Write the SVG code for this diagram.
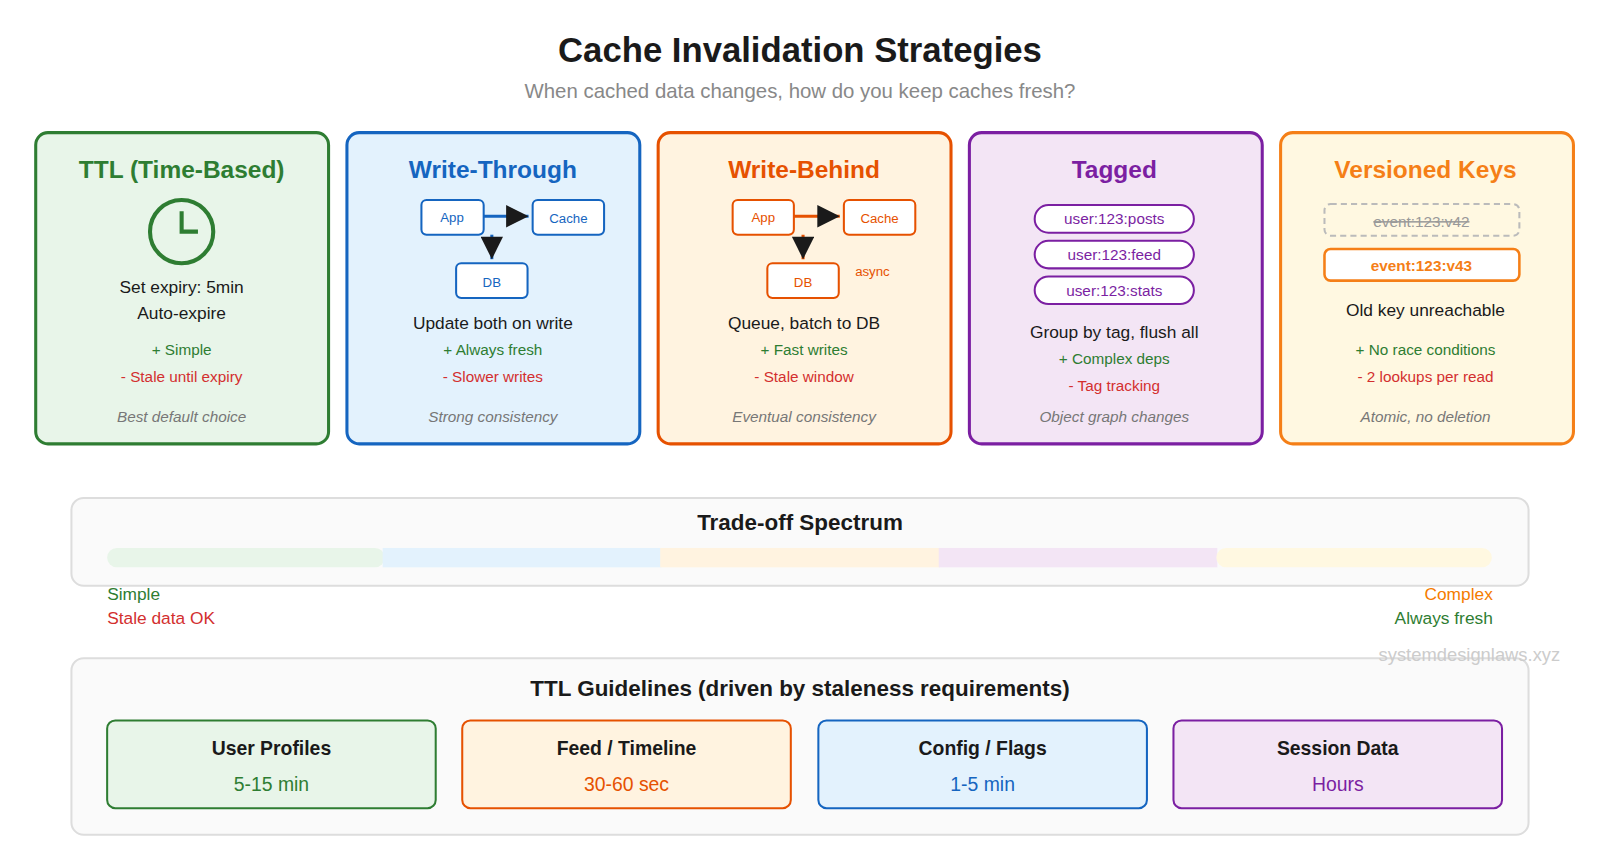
<svg xmlns="http://www.w3.org/2000/svg" width="1600" height="844" viewBox="0 0 1600 844">
<style>
text{font-family:"Liberation Sans",Arial,sans-serif}
.c{text-anchor:middle}
.t{font-size:24px;font-weight:bold}
.b{font-size:17px;fill:#1a1a1a}
.p{font-size:15px;fill:#2e7d32}
.m{font-size:15px;fill:#d32f2f}
.i{font-size:15px;font-style:italic;fill:#777}
.card{stroke-width:3}
.sm{font-size:13px}
</style>
<defs>
<marker id="big" viewBox="0 0 10 10" refX="10" refY="5" markerWidth="28" markerHeight="22" markerUnits="userSpaceOnUse" orient="auto"><path d="M0,0L10,5L0,10z" fill="#1a1a1a"/></marker>
</defs>
<rect width="1600" height="844" fill="#fff"/>
<g transform="scale(1.0204)">
<text class="c" x="784" y="61" font-size="34" font-weight="bold" fill="#1a1a1a">Cache Invalidation Strategies</text>
<text class="c" x="784" y="96" font-size="20" fill="#888">When cached data changes, how do you keep caches fresh?</text>

<g id="ttl">
<rect class="card" x="35" y="130" width="287" height="305" rx="12" fill="#e8f5e9" stroke="#2e7d32"/>
<text class="c t" x="178" y="174" fill="#2e7d32">TTL (Time-Based)</text>
<circle cx="178" cy="227" r="31" fill="none" stroke="#2e7d32" stroke-width="4"/>
<path d="M178,207V227H194" fill="none" stroke="#2e7d32" stroke-width="4"/>
<text class="c b" x="178" y="287">Set expiry: 5min</text>
<text class="c b" x="178" y="313">Auto-expire</text>
<text class="c p" x="178" y="348">+ Simple</text>
<text class="c m" x="178" y="374">- Stale until expiry</text>
<text class="c i" x="178" y="414">Best default choice</text>
</g>

<g id="writethrough">
<rect class="card" x="340" y="130" width="287" height="305" rx="12" fill="#e3f2fd" stroke="#1565c0"/>
<text class="c t" x="483" y="174" fill="#1565c0">Write-Through</text>
<g fill="#fff" stroke="#1565c0" stroke-width="2">
<rect x="413" y="196" width="61" height="34" rx="5"/>
<rect x="522" y="196" width="70" height="34" rx="5"/>
<rect x="447" y="258" width="70" height="34" rx="5"/>
</g>
<g fill="#1565c0" class="c sm"><text x="443" y="218">App</text><text x="557" y="219">Cache</text><text x="482" y="281">DB</text></g>
<text class="c b" x="483" y="322">Update both on write</text>
<text class="c p" x="483" y="348">+ Always fresh</text>
<text class="c m" x="483" y="374">- Slower writes</text>
<text class="c i" x="483" y="414">Strong consistency</text>
</g>

<g id="writebehind">
<rect class="card" x="645" y="130" width="287" height="305" rx="12" fill="#fff3e0" stroke="#e65100"/>
<text class="c t" x="788" y="174" fill="#e65100">Write-Behind</text>
<g fill="#fff" stroke="#e65100" stroke-width="2">
<rect x="718" y="196" width="60" height="34" rx="5"/>
<rect x="827" y="196" width="70" height="34" rx="5"/>
<rect x="752" y="258" width="70" height="34" rx="5"/>
</g>
<g fill="#e65100" class="c sm"><text x="748" y="218">App</text><text x="862" y="219">Cache</text><text x="787" y="281">DB</text><text x="855" y="270">async</text></g>
<text class="c b" x="788" y="322">Queue, batch to DB</text>
<text class="c p" x="788" y="348">+ Fast writes</text>
<text class="c m" x="788" y="374">- Stale window</text>
<text class="c i" x="788" y="414">Eventual consistency</text>
</g>

<g id="tagged">
<rect class="card" x="950" y="130" width="287" height="305" rx="12" fill="#f3e5f5" stroke="#7b1fa2"/>
<text class="c t" x="1092" y="174" fill="#7b1fa2">Tagged</text>
<g fill="#fff" stroke="#7b1fa2" stroke-width="2">
<rect x="1014" y="201" width="156" height="27" rx="13.5"/>
<rect x="1014" y="236" width="156" height="27" rx="13.5"/>
<rect x="1014" y="271" width="156" height="27" rx="13.5"/>
</g>
<g fill="#7b1fa2" class="c" font-size="15"><text x="1092" y="220">user:123:posts</text><text x="1092" y="255">user:123:feed</text><text x="1092" y="290">user:123:stats</text></g>
<text class="c b" x="1092" y="331">Group by tag, flush all</text>
<text class="c p" x="1092" y="357">+ Complex deps</text>
<text class="c m" x="1092" y="383">- Tag tracking</text>
<text class="c i" x="1092" y="414">Object graph changes</text>
</g>

<g id="versioned">
<rect class="card" x="1255" y="130" width="287" height="305" rx="12" fill="#fff8e1" stroke="#f57f17"/>
<text class="c t" x="1397" y="174" fill="#f57f17">Versioned Keys</text>
<rect x="1298" y="200" width="191" height="31" rx="6" fill="none" stroke="#bbb" stroke-width="2" stroke-dasharray="6,4"/>
<text class="c" x="1393" y="222" font-size="15" fill="#999" text-decoration="line-through">event:123:v42</text>
<rect x="1298" y="244" width="191" height="31" rx="6" fill="#fff" stroke="#f57f17" stroke-width="2.5"/>
<text class="c" x="1393" y="266" font-size="15" font-weight="bold" fill="#f57f17">event:123:v43</text>
<text class="c b" x="1397" y="310">Old key unreachable</text>
<text class="c p" x="1397" y="348">+ No race conditions</text>
<text class="c m" x="1397" y="374">- 2 lookups per read</text>
<text class="c i" x="1397" y="414">Atomic, no deletion</text>
</g>

<g id="connectors" fill="none" stroke-width="3">
<path d="M474,212H518" stroke="#1565c0" marker-end="url(#big)"/>
<path d="M482,230V254" stroke="#1565c0" marker-end="url(#big)"/>
<path d="M778,212H823" stroke="#e65100" marker-end="url(#big)"/>
<path d="M787,230V254" stroke="#e65100" stroke-dasharray="4,3" marker-end="url(#big)"/>
</g>

<g id="spectrum">
<rect x="70" y="488" width="1428" height="86" rx="12" fill="#fafafa" stroke="#ddd" stroke-width="2"/>
<text class="c" x="784" y="519" font-size="22" font-weight="bold" fill="#1a1a1a">Trade-off Spectrum</text>
<rect x="105" y="537" width="272" height="19" rx="9.5" fill="#e8f5e9"/>
<rect x="375" y="537" width="273" height="19" fill="#e3f2fd"/>
<rect x="647" y="537" width="274" height="19" fill="#fff3e0"/>
<rect x="920" y="537" width="273" height="19" fill="#f3e5f5"/>
<rect x="1192" y="537" width="270" height="19" rx="9.5" fill="#fff8e1"/>
<text x="105" y="588" font-size="17" fill="#2e7d32">Simple</text>
<text x="105" y="612" font-size="17" fill="#d32f2f">Stale data OK</text>
<text x="1463" y="588" font-size="17" fill="#f57c00" text-anchor="end">Complex</text>
<text x="1463" y="612" font-size="17" fill="#2e7d32" text-anchor="end">Always fresh</text>
</g>

<g id="guidelines">
<rect x="70" y="645" width="1428" height="173" rx="12" fill="#fafafa" stroke="#ddd" stroke-width="2"/>
<text class="c" x="784" y="682" font-size="22" font-weight="bold" fill="#1a1a1a">TTL Guidelines (driven by staleness requirements)</text>
<rect x="105" y="706" width="322" height="86" rx="8" fill="#e8f5e9" stroke="#2e7d32" stroke-width="2"/>
<text class="c" x="266" y="740" font-size="19" font-weight="bold" fill="#1a1a1a">User Profiles</text>
<text class="c" x="266" y="775" font-size="19" fill="#2e7d32">5-15 min</text>
<rect x="453" y="706" width="322" height="86" rx="8" fill="#fff3e0" stroke="#e65100" stroke-width="2"/>
<text class="c" x="614" y="740" font-size="19" font-weight="bold" fill="#1a1a1a">Feed / Timeline</text>
<text class="c" x="614" y="775" font-size="19" fill="#e65100">30-60 sec</text>
<rect x="802" y="706" width="322" height="86" rx="8" fill="#e3f2fd" stroke="#1565c0" stroke-width="2"/>
<text class="c" x="963" y="740" font-size="19" font-weight="bold" fill="#1a1a1a">Config / Flags</text>
<text class="c" x="963" y="775" font-size="19" fill="#1565c0">1-5 min</text>
<rect x="1150" y="706" width="322" height="86" rx="8" fill="#f3e5f5" stroke="#7b1fa2" stroke-width="2"/>
<text class="c" x="1311" y="740" font-size="19" font-weight="bold" fill="#1a1a1a">Session Data</text>
<text class="c" x="1311" y="775" font-size="19" fill="#7b1fa2">Hours</text>
</g>
<text x="1529" y="648" font-size="18" fill="#ccc" text-anchor="end">systemdesignlaws.xyz</text>
</g>
</svg>
